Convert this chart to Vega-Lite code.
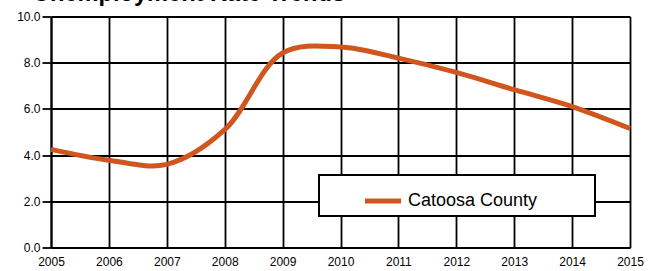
{
  "$schema": "https://vega.github.io/schema/vega-lite/v6.json",
  "width": 579,
  "height": 231,
  "autosize": {"type": "none"},
  "padding": {"left": 51, "top": 16.5, "right": 24, "bottom": 23.5},
  "background": "white",
  "title": {
    "text": "Unemployment Rate Trends",
    "anchor": "start",
    "frame": "group",
    "font": "Liberation Sans",
    "fontSize": 23.6,
    "fontWeight": "bold",
    "color": "#000000",
    "dx": -18,
    "offset": 0,
    "baseline": "alphabetic",
    "dy": 14
  },
  "data": {
    "values": [
      {"year": 2005, "rate": 4.25, "series": "Catoosa County"},
      {"year": 2006, "rate": 3.78, "series": "Catoosa County"},
      {"year": 2007, "rate": 3.6, "series": "Catoosa County"},
      {"year": 2008, "rate": 5.1, "series": "Catoosa County"},
      {"year": 2009, "rate": 8.42, "series": "Catoosa County"},
      {"year": 2010, "rate": 8.68, "series": "Catoosa County"},
      {"year": 2011, "rate": 8.2, "series": "Catoosa County"},
      {"year": 2012, "rate": 7.58, "series": "Catoosa County"},
      {"year": 2013, "rate": 6.83, "series": "Catoosa County"},
      {"year": 2014, "rate": 6.1, "series": "Catoosa County"},
      {"year": 2015, "rate": 5.15, "series": "Catoosa County"}
    ]
  },
  "mark": {"type": "line", "interpolate": "catmull-rom", "strokeWidth": 5, "strokeCap": "butt"},
  "encoding": {
    "x": {
      "field": "year",
      "type": "quantitative",
      "scale": {"domain": [2005, 2015], "nice": false, "zero": false},
      "axis": {
        "title": null,
        "values": [2005, 2006, 2007, 2008, 2009, 2010, 2011, 2012, 2013, 2014, 2015],
        "format": "d",
        "grid": true,
        "gridColor": "#000000",
        "gridWidth": 1.8,
        "gridOpacity": 1,
        "domainColor": "#000000",
        "domainWidth": 2,
        "ticks": false,
        "labelPadding": 9,
        "labelFont": "Liberation Sans",
        "labelFontSize": 12,
        "labelColor": "#000000",
        "labelFlush": false
      }
    },
    "y": {
      "field": "rate",
      "type": "quantitative",
      "scale": {"domain": [0, 10], "nice": false},
      "axis": {
        "title": null,
        "values": [0, 2, 4, 6, 8, 10],
        "format": ".1f",
        "grid": true,
        "gridColor": "#000000",
        "gridWidth": 1.8,
        "gridOpacity": 1,
        "domainColor": "#000000",
        "domainWidth": 2,
        "ticks": true,
        "tickColor": "#000000",
        "tickWidth": 1.8,
        "tickSize": 9,
        "labelPadding": 2,
        "labelFont": "Liberation Sans",
        "labelFontSize": 12,
        "labelColor": "#000000"
      }
    },
    "color": {
      "field": "series",
      "type": "nominal",
      "scale": {"range": ["#D0561F"]},
      "legend": {
        "title": null,
        "orient": "none",
        "legendX": 268,
        "legendY": 158.5,
        "fillColor": "#ffffff",
        "strokeColor": "#000000",
        "padding": 5,
        "symbolType": "stroke",
        "symbolSize": 1300,
        "symbolStrokeWidth": 5,
        "symbolOffset": 38,
        "labelOffset": 4,
        "labelLimit": 400,
        "labelFont": "Liberation Sans",
        "labelFontSize": 18,
        "labelColor": "#000000",
        "labelExpr": "datum.label + '\u2800\u2800\u2800\u2800'"
      }
    }
  },
  "config": {
    "view": {"stroke": null},
    "axis": {"labelFont": "Liberation Sans"},
    "legend": {"strokeWidth": 2}
  }
}
